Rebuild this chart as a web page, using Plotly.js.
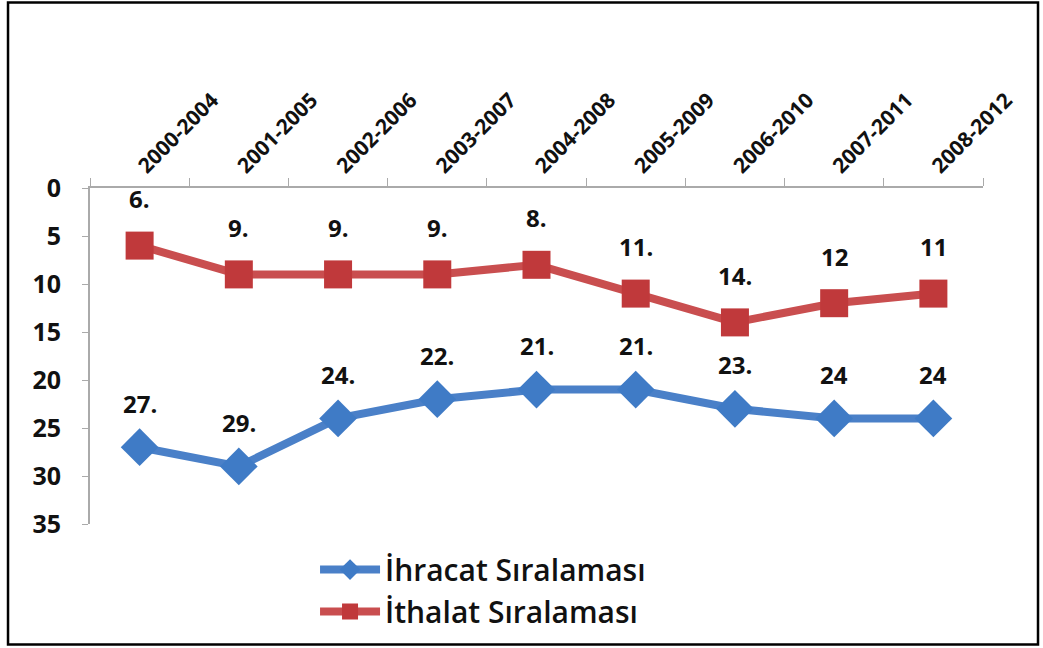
<!DOCTYPE html>
<html><head><meta charset="utf-8">
<script src="https://cdn.plot.ly/plotly-3.0.1.min.js"></script>
<style>html,body{margin:0;padding:0;background:#fff;}#chart{width:1043px;height:648px;}</style>
</head><body><div id="chart"></div>
<script>
const categories = ["2000-2004","2001-2005","2002-2006","2003-2007","2004-2008","2005-2009","2006-2010","2007-2011","2008-2012"];
const ihracat = [27, 29, 24, 22, 21, 21, 23, 24, 24];
const ithalat = [6, 9, 9, 9, 8, 11, 14, 12, 11];
const ihracatLabels = ["27.","29.","24.","22.","21.","21.","23.","24","24"];
const ithalatLabels = ["6.","9.","9.","9.","8.","11.","14.","12","11"];
const yTicks = [0,5,10,15,20,25,30,35];

const blue = "#3f7bc6", red = "#c0393b";
const FONT = "Open Sans, Liberation Sans, sans-serif";
const traces = [
  {x: categories, y: ihracat, name: "İhracat Sıralaması", mode: "lines+markers",
   line: {color: "#4a80c8", width: 8}, marker: {symbol: "diamond", size: 29, color: blue}},
  {x: categories, y: ithalat, name: "İthalat Sıralaması", mode: "lines+markers",
   line: {color: "#c94e4f", width: 8}, marker: {symbol: "square", size: 28, color: red}}
];
const lblFont = {family: FONT, size: 24, color: "#111", weight: "bold"};
const annotations = [];
categories.forEach((c, i) => {
  annotations.push({x: c, y: ihracat[i], text: "<b>" + ihracatLabels[i] + "</b>", showarrow: false, yshift: 44, font: lblFont});
  annotations.push({x: c, y: ithalat[i], text: "<b>" + ithalatLabels[i] + "</b>", showarrow: false, yshift: 47, font: lblFont});
});
const layout = {
  width: 1043, height: 648,
  margin: {l: 90, r: 60, t: 188, b: 123},
  paper_bgcolor: "#fff", plot_bgcolor: "#fff",
  showlegend: true,
  legend: {x: 0.252, y: -0.055, xanchor: "left", yanchor: "top", tracegroupgap: 0,
           font: {family: FONT, size: 30, color: "#111", weight: 600}, itemwidth: 60},
  xaxis: {type: "category", side: "top", range: [-0.5, 8.5], tickson: "boundaries",
          ticks: "outside", ticklen: 8, tickcolor: "#aaa", showline: true, linecolor: "#aaa", linewidth: 2,
          showgrid: false, zeroline: false, tickangle: -45,
          tickfont: {family: FONT, size: 21, color: "#111", weight: "bold"}},
  yaxis: {range: [35, 0], tickvals: yTicks, ticks: "outside", ticklen: 6, tickcolor: "#aaa",
          showline: true, linecolor: "#aaa", linewidth: 2, showgrid: false, zeroline: false,
          ticklabelstandoff: 16,
          tickfont: {family: FONT, size: 25, color: "#111", weight: "bold"}},
  annotations: annotations,
  shapes: [{type: "rect", xref: "paper", yref: "paper", x0: -0.0918, x1: 1.0616, y0: -0.359, y1: 1.552,
            line: {color: "#000", width: 2.5}}]
};
Plotly.newPlot("chart", traces, layout, {displayModeBar: false});
</script></body></html>
